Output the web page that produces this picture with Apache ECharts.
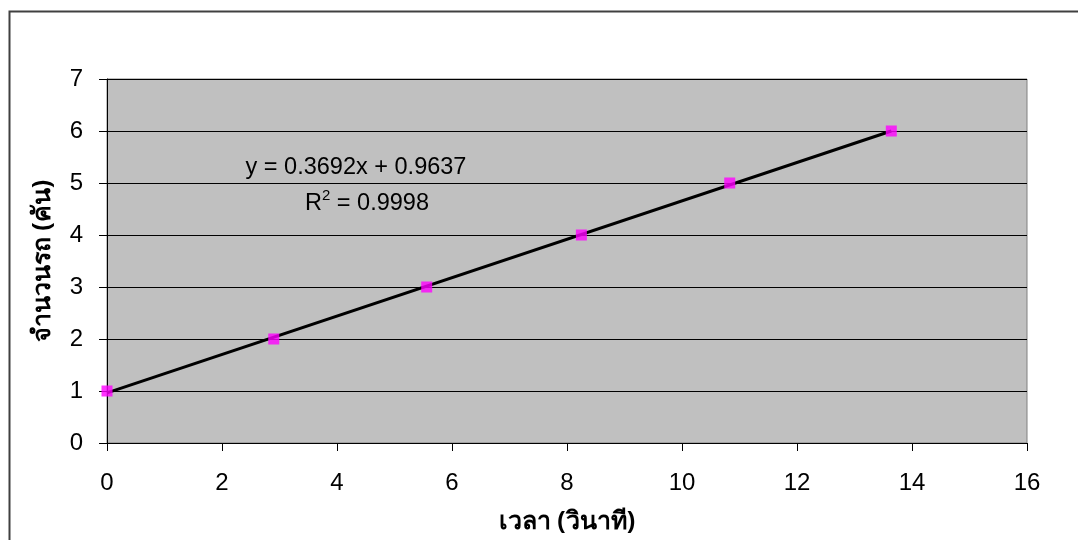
<!DOCTYPE html>
<html>
<head>
<meta charset="utf-8">
<script src="https://cdn.jsdelivr.net/npm/echarts@6/dist/echarts.min.js"></script>
<style>
  html, body { margin: 0; padding: 0; background: #fff; }
  #chart { width: 1078px; height: 540px; }
</style>
</head>
<body>
<div id="chart"></div>
<script>
// Measured times (seconds) and cumulative vehicle counts
const timeSec = [0, 2.9, 5.56, 8.25, 10.83, 13.64];
const carCount = [1, 2, 3, 4, 5, 6];

// Linear trendline coefficients and fit quality
const slope = 0.3692;
const intercept = 0.9637;
const rSquared = 0.9998;

const xAxisTitle = 'เวลา (วินาที)';
const yAxisTitle = 'จำนวนรถ (คัน)';

const trendX = [0, timeSec[timeSec.length - 1]];
const trendData = trendX.map(x => [x, slope * x + intercept]);
const points = timeSec.map((t, i) => [t, carCount[i]]);

const FONT = '"Liberation Sans", Arial, sans-serif';
const THAI_FONT = '"Noto Sans", "DejaVu Sans", sans-serif';

const chart = echarts.init(document.getElementById('chart'), null, { renderer: 'canvas' });

chart.setOption({
  animation: false,
  backgroundColor: '#ffffff',
  grid: {
    left: 107, right: 51, top: 79, bottom: 97,
    show: true,
    backgroundColor: '#c0c0c0',
    borderColor: '#808080',
    borderWidth: 1
  },
  xAxis: {
    type: 'value',
    min: 0, max: 16, interval: 2,
    name: xAxisTitle,
    nameLocation: 'middle',
    nameGap: 66,
    nameTextStyle: { fontFamily: THAI_FONT, fontSize: 25, fontWeight: 'bold', color: '#000' },
    axisLine: { show: true, onZero: false, lineStyle: { color: '#000', width: 1 } },
    axisTick: { show: true, length: 8, inside: false, lineStyle: { color: '#000' } },
    axisLabel: { color: '#000', fontFamily: FONT, fontSize: 24, margin: 28 },
    splitLine: { show: false }
  },
  yAxis: {
    type: 'value',
    min: 0, max: 7, interval: 1,
    name: yAxisTitle,
    nameLocation: 'middle',
    nameGap: 52,
    nameRotate: 90,
    nameTextStyle: { fontFamily: THAI_FONT, fontSize: 25, fontWeight: 'bold', color: '#000' },
    axisLine: { show: true, onZero: false, lineStyle: { color: '#000', width: 1 } },
    axisTick: { show: true, length: 8, inside: false, lineStyle: { color: '#000' } },
    axisLabel: { color: '#000', fontFamily: FONT, fontSize: 24, margin: 24 },
    splitLine: { show: true, lineStyle: { color: '#000', width: 1 } }
  },
  series: [
    {
      name: 'trend',
      type: 'line',
      data: trendData,
      symbol: 'none',
      lineStyle: { color: '#000', width: 3 },
      z: 2
    },
    {
      name: 'counts',
      type: 'scatter',
      data: points,
      symbol: 'rect',
      symbolSize: 11,
      itemStyle: { color: '#ff00ff' },
      z: 3
    }
  ],
  graphic: [
    {
      type: 'rect',
      left: 7, top: 9,
      shape: { width: 1200, height: 700 },
      style: { fill: 'none', stroke: '#404040', lineWidth: 2 },
      silent: true, z: -10
    },
    {
      type: 'text',
      x: 356, y: 168,
      style: {
        text: 'y = ' + slope.toFixed(4) + 'x + ' + intercept.toFixed(4),
        font: '23.5px ' + FONT,
        fill: '#000',
        align: 'center',
        verticalAlign: 'middle'
      },
      z: 10
    },
    {
      type: 'text',
      x: 367, y: 202,
      style: {
        text: '{r|R}{sup|2}{r| = ' + rSquared.toFixed(4) + '}',
        align: 'center',
        verticalAlign: 'middle',
        rich: {
          r: { font: '23.5px ' + FONT, fill: '#000', verticalAlign: 'bottom' },
          sup: { font: '15px ' + FONT, fill: '#000', verticalAlign: 'top', padding: [0, 0, 12, 0] }
        }
      },
      z: 10
    }
  ]
});
</script>
</body>
</html>
